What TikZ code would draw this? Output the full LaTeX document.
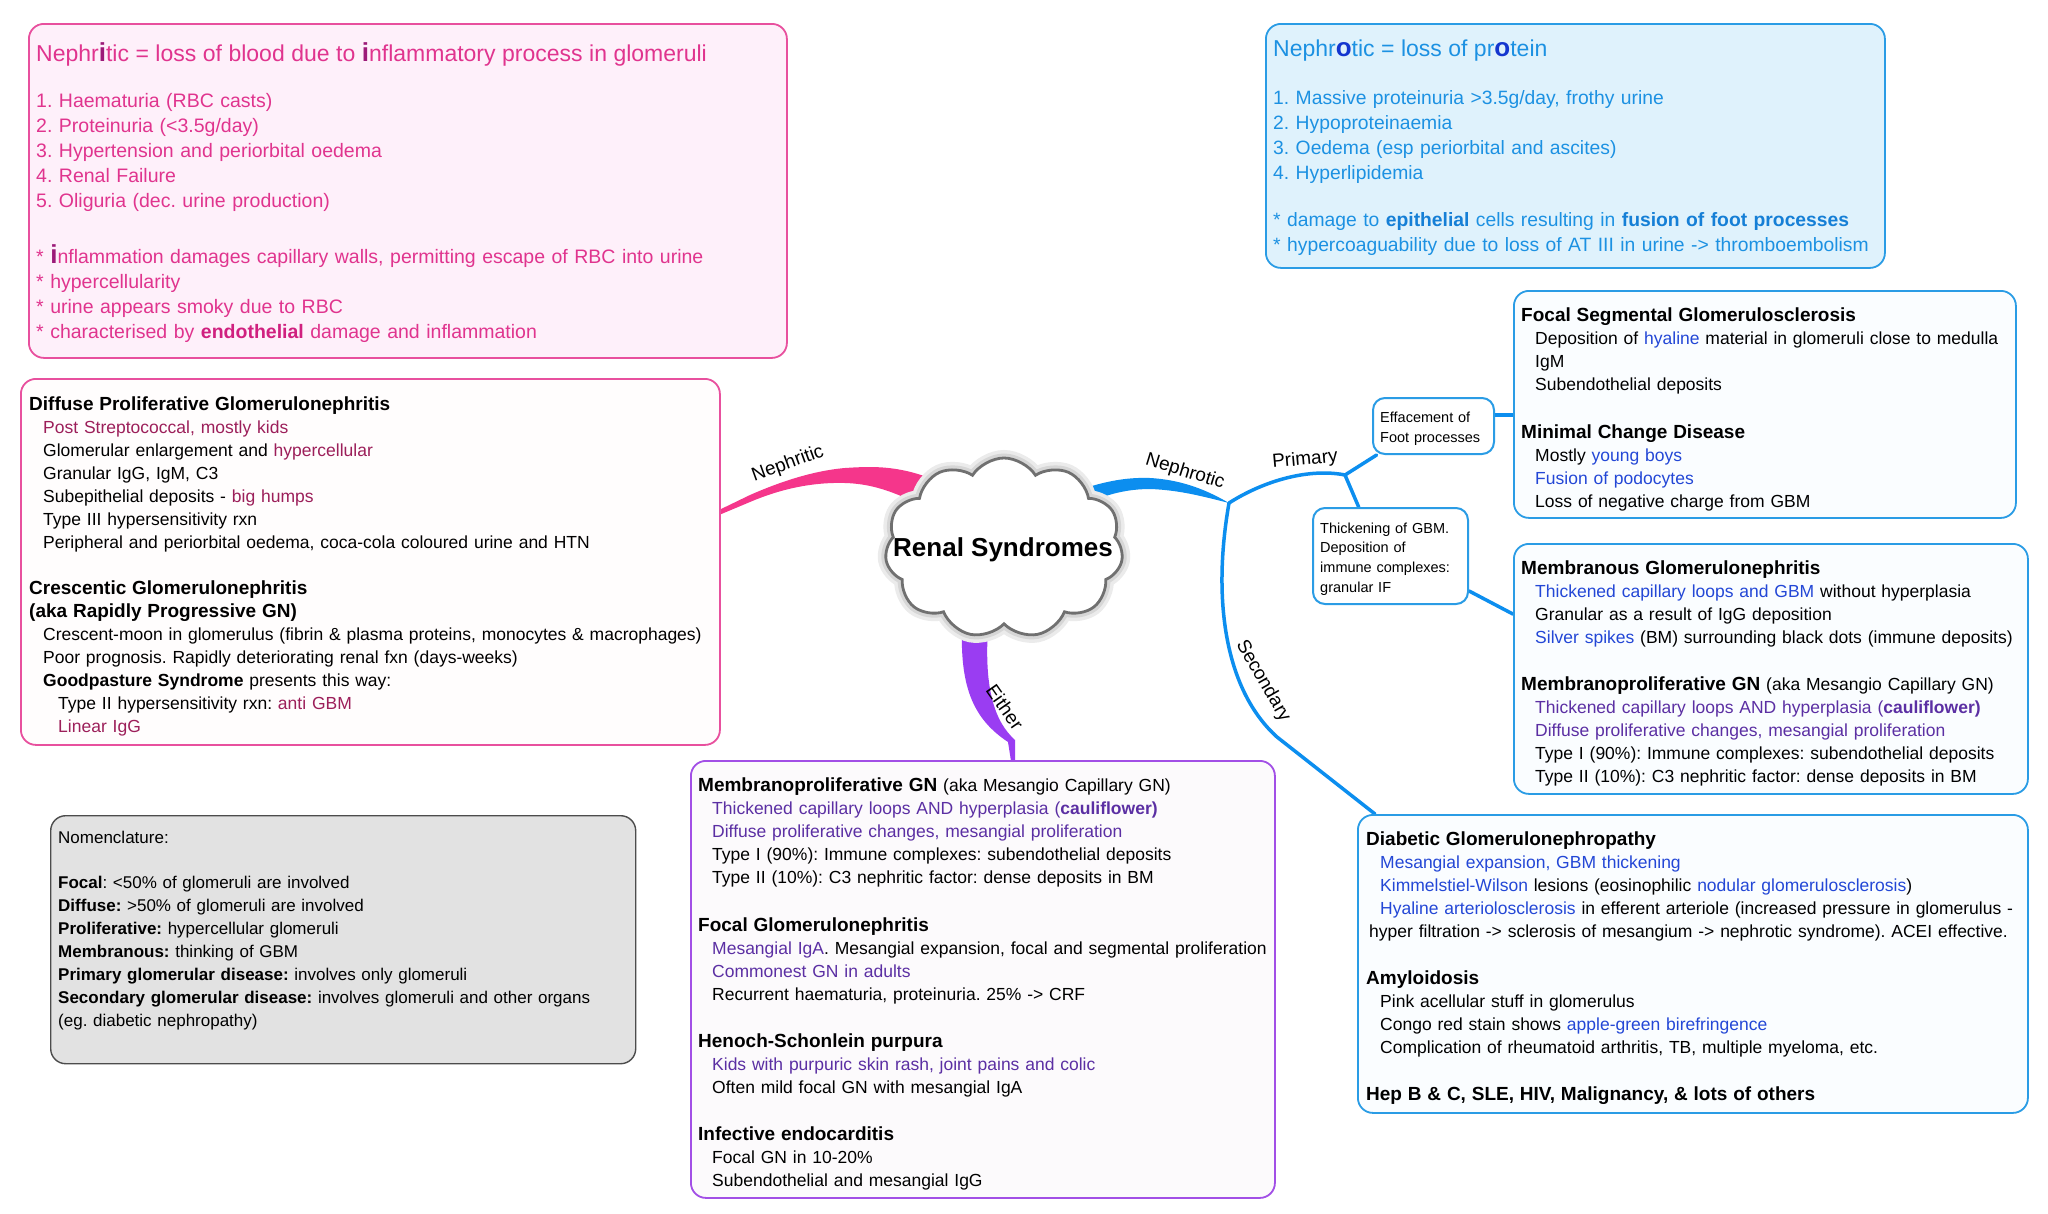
\documentclass[tikz,border=0pt]{standalone}
\usepackage{fontspec}
\setmainfont{Liberation Sans}
\usepackage{xcolor}
\usepackage{tikz}
\usetikzlibrary{positioning,calc,shapes.symbols,backgrounds}
\frenchspacing

\definecolor{pinkline}{HTML}{E8509E}
\definecolor{pinkfill}{HTML}{FEF0FA}
\definecolor{pinktext}{HTML}{E0348E}
\definecolor{pinkdark}{HTML}{9C1A78}
\definecolor{pinkbold}{HTML}{D0207F}
\definecolor{blueline}{HTML}{2A9CE5}
\definecolor{bluefill}{HTML}{DFF2FC}
\definecolor{bluetext}{HTML}{1C91E2}
\definecolor{bluedark}{HTML}{1436CF}
\definecolor{bluebold}{HTML}{157FD6}
\definecolor{deepblue}{HTML}{2347D6}
\definecolor{maroon}{HTML}{9C1F5A}
\definecolor{purpline}{HTML}{A24FE6}
\definecolor{purptext}{HTML}{5B2FA3}
\definecolor{npink}{HTML}{F5368B}
\definecolor{nblue}{HTML}{0C8EEF}
\definecolor{npurp}{HTML}{9A3DF2}
\definecolor{nomfill}{HTML}{E2E2E2}
\definecolor{cloudline}{HTML}{707070}

\newcommand{\bodyfont}{\fontsize{17.5}{23}\selectfont}
\newcommand{\hdg}[1]{{\fontsize{19}{23}\selectfont\bfseries #1}}
\newcommand{\indA}{\hspace*{14pt}}
\newcommand{\indB}{\hspace*{29pt}}
\newcommand{\cmar}[1]{\textcolor{maroon}{#1}}
\newcommand{\cblu}[1]{\textcolor{deepblue}{#1}}
\newcommand{\cpur}[1]{\textcolor{purptext}{#1}}
\newcommand{\bigI}[1]{{\fontsize{26}{25}\selectfont\bfseries\color{pinkdark}#1}}
\newcommand{\bigO}[1]{{\fontsize{26}{25}\selectfont\bfseries\color{bluedark}#1}}
\newcommand{\bul}{{*}\ }

\begin{document}
\begin{tikzpicture}[x=1pt, y=-1pt,
  box/.style={rectangle, rounded corners=15pt, line width=1.8pt, anchor=north west, inner sep=0pt},
  smallbox/.style={box, rounded corners=12pt, draw=blueline, fill=white, line width=2pt},
  txt/.style={anchor=base west, inner sep=0pt, text width=#1, align=left},
  branch/.style={draw=nblue, line width=3.5pt, line cap=round},
  lbl/.style={font=\fontsize{19}{19}\selectfont, inner sep=0pt}]
  \useasboundingbox (0,0) rectangle (2048,1213);
  \begin{scope}[on background layer]
    \fill[white] (0,0) rectangle (2048,1213);
  \end{scope}

  % boxes
  \node[box, draw=pinkline, fill=pinkfill, minimum width=758, minimum height=334] (nephriticbox) at (28,23) {};
  \node[box, draw=blueline, fill=bluefill, minimum width=619, minimum height=244] (nephroticbox) at (1265,23) {};
  \node[box, draw=pinkline, fill=white!97!pink, minimum width=699, minimum height=366] (diffusebox) at (20,378) {};
  \node[box, draw=purpline, fill=white!98!violet, minimum width=584, minimum height=437] (eitherbox) at (690,760) {};
  \node[box, draw=blueline, fill=white!98!cyan, minimum width=502, minimum height=227] (fsgsbox) at (1513,290) {};
  \node[box, draw=blueline, fill=white!98!cyan, minimum width=514, minimum height=250] (membbox) at (1513,543) {};
  \node[box, draw=blueline, fill=white!98!cyan, minimum width=670, minimum height=298] (diabbox) at (1357,814) {};
  \node[box, draw=black!70, fill=nomfill, line width=1.4pt, minimum width=585, minimum height=248] (nomenbox) at (50,815) {};
  \node[smallbox, minimum width=121, minimum height=56] (effbox) at (1372,397) {};
  \node[smallbox, minimum width=155, minimum height=96] (thickbox) at (1312,507) {};

  \coordinate (fork) at (1229,503);
  \coordinate (primfork) at (1345,475);

  % connectors
  \begin{scope}[on background layer]
    \fill[npink] (948,486) .. controls (905,465) and (875,466) .. (845,468)
      .. controls (810,471) and (775,484) .. (750,495) -- (719,510) -- (719,515) -- (750,502)
      .. controls (778,490) and (810,482) .. (845,483) .. controls (880,484) and (905,497) .. (945,517) -- cycle;
    \fill[nblue] (1068,494) .. controls (1100,482) and (1125,477) .. (1150,478)
      .. controls (1185,480) and (1210,492) .. (fork) .. controls (1205,497) and (1180,490) .. (1150,489)
      .. controls (1120,489) and (1095,498) .. (1070,512) -- cycle;
    \fill[npurp] (962,628) .. controls (960,690) and (975,720) .. (1008,742) -- (1011,761) -- (1015,761)
      -- (1015,740) .. controls (995,722) and (984,690) .. (988,628) -- cycle;
    \draw[branch] (fork) .. controls (1265,480) and (1310,468) .. (primfork);
    \draw[branch] (primfork) -- (effbox.207);
    \draw[branch] (primfork) -- (thickbox.123);
    \draw[branch] (effbox.10) -- (effbox.10 -| fsgsbox.west);
    \draw[branch] (thickbox.336) -- (membbox.168);
    \draw[branch] (fork) .. controls (1212,600) and (1225,690) .. (1277,737) -- ($(diabbox.north west)+(18,0)$);
  \end{scope}

  \node[cloud, cloud puffs=11, cloud puff arc=115, cloud ignores aspect, minimum width=238, minimum height=180,
        draw=cloudline, line width=2.8pt, fill=white,
        preaction={draw=black!8, line width=16pt}, preaction={draw=black!16, line width=9pt}] (renal) at (1004,548) {};
  \node[font=\fontsize{26}{30}\selectfont\bfseries] (renaltxt) at (1003,550) {Renal Syndromes};

  \node[lbl, rotate=20] (nephriticlbl) at (788,464) {Nephritic};
  \node[lbl, rotate=-17] (nephroticlbl) at (1185,472) {Nephrotic};
  \node[lbl, rotate=5] (primarylbl) at (1305,460) {Primary};
  \node[lbl, rotate=-60] (secondarylbl) at (1263,681) {Secondary};
  \node[lbl, rotate=-55] (eitherlbl) at (1005,707) {Either};

  % texts
  \node[txt=770, text=pinktext, font=\fontsize{19.5}{25}\selectfont] (nephritictxt) at (36,61)
    {{\fontsize{23}{25}\selectfont Nephr\bigI{i}tic = loss of blood due to \bigI{i}nflammatory process in glomeruli}\\[21pt]
     1. Haematuria (RBC casts)\\
     2. Proteinuria (<3.5g/day)\\
     3. Hypertension and periorbital oedema\\
     4. Renal Failure\\
     5. Oliguria (dec. urine production)\\[31pt]
     \bul\bigI{i}nflammation damages capillary walls, permitting escape of RBC into urine\\
     \bul hypercellularity\\
     \bul urine appears smoky due to RBC\\
     \bul characterised by \textcolor{pinkbold}{\textbf{endothelial}} damage and inflammation};

  \node[txt=640, text=bluetext, font=\fontsize{19.3}{25}\selectfont] (nephrotictxt) at (1273,56)
    {{\fontsize{23}{25}\selectfont Nephr\bigO{o}tic = loss of pr\bigO{o}tein}\\[23.5pt]
     1. Massive proteinuria >3.5g/day, frothy urine\\
     2. Hypoproteinaemia\\
     3. Oedema (esp periorbital and ascites)\\
     4. Hyperlipidemia\\[22pt]
     \bul damage to \textcolor{bluebold}{\textbf{epithelial}} cells resulting in \textcolor{bluebold}{\textbf{fusion of foot processes}}\\
     \bul hypercoaguability due to loss of AT III in urine -> thromboembolism};

  \node[txt=720, font=\bodyfont] (diffusetxt) at (29,410)
    {\hdg{Diffuse Proliferative Glomerulonephritis}\\
     \indA\cmar{Post Streptococcal, mostly kids}\\
     \indA Glomerular enlargement and \cmar{hypercellular}\\
     \indA Granular IgG, IgM, C3\\
     \indA Subepithelial deposits - \cmar{big humps}\\
     \indA Type III hypersensitivity rxn\\
     \indA Peripheral and periorbital oedema, coca-cola coloured urine and HTN\\[23pt]
     \hdg{Crescentic Glomerulonephritis}\\
     \hdg{(aka Rapidly Progressive GN)}\\
     \indA Crescent-moon in glomerulus (fibrin \& plasma proteins, monocytes \& macrophages)\\
     \indA Poor prognosis. Rapidly deteriorating renal fxn (days-weeks)\\
     \indA\textbf{Goodpasture Syndrome} presents this way:\\
     \indB Type II hypersensitivity rxn: \cmar{anti GBM}\\
     \indB\cmar{Linear IgG}};

  \node[txt=640, font=\bodyfont] (eithertxt) at (698,791)
    {\hdg{Membranoproliferative GN} (aka Mesangio Capillary GN)\\
     \indA\cpur{Thickened capillary loops AND hyperplasia (\textbf{cauliflower)}}\\
     \indA\cpur{Diffuse proliferative changes, mesangial proliferation}\\
     \indA Type I (90\%): Immune complexes: subendothelial deposits\\
     \indA Type II (10\%): C3 nephritic factor: dense deposits in BM\\[25pt]
     \hdg{Focal Glomerulonephritis}\\
     \indA\cpur{Mesangial IgA}. Mesangial expansion, focal and segmental proliferation\\
     \indA\cpur{Commonest GN in adults}\\
     \indA Recurrent haematuria, proteinuria. 25\% -> CRF\\[24pt]
     \hdg{Henoch-Schonlein purpura}\\
     \indA\cpur{Kids with purpuric skin rash, joint pains and colic}\\
     \indA Often mild focal GN with mesangial IgA\\[24pt]
     \hdg{Infective endocarditis}\\
     \indA Focal GN in 10-20\%\\
     \indA Subendothelial and mesangial IgG};

  \node[txt=560, font=\bodyfont] (fsgstxt) at (1521,321)
    {\hdg{Focal Segmental Glomerulosclerosis}\\
     \indA Deposition of \cblu{hyaline} material in glomeruli close to medulla\\
     \indA IgM\\
     \indA Subendothelial deposits\\[25pt]
     \hdg{Minimal Change Disease}\\
     \indA Mostly \cblu{young boys}\\
     \indA\cblu{Fusion of podocytes}\\
     \indA Loss of negative charge from GBM};

  \node[txt=560, font=\bodyfont] (membtxt) at (1521,574)
    {\hdg{Membranous Glomerulonephritis}\\
     \indA\cblu{Thickened capillary loops and GBM} without hyperplasia\\
     \indA Granular as a result of IgG deposition\\
     \indA\cblu{Silver spikes} (BM) surrounding black dots (immune deposits)\\[24pt]
     \hdg{Membranoproliferative GN} (aka Mesangio Capillary GN)\\
     \indA\cpur{Thickened capillary loops AND hyperplasia (\textbf{cauliflower)}}\\
     \indA\cpur{Diffuse proliferative changes, mesangial proliferation}\\
     \indA Type I (90\%): Immune complexes: subendothelial deposits\\
     \indA Type II (10\%): C3 nephritic factor: dense deposits in BM};

  \node[txt=720, font=\bodyfont] (diabtxt) at (1366,845)
    {\hdg{Diabetic Glomerulonephropathy}\\
     \indA\cblu{Mesangial expansion, GBM thickening}\\
     \indA\cblu{Kimmelstiel-Wilson} lesions (eosinophilic \cblu{nodular glomerulosclerosis})\\
     \indA\cblu{Hyaline arteriolosclerosis} in efferent arteriole (increased pressure in glomerulus -\\
     \hspace*{3pt}hyper filtration -> sclerosis of mesangium -> nephrotic syndrome). ACEI effective.\\[24pt]
     \hdg{Amyloidosis}\\
     \indA Pink acellular stuff in glomerulus\\
     \indA Congo red stain shows \cblu{apple-green birefringence}\\
     \indA Complication of rheumatoid arthritis, TB, multiple myeloma, etc.\\[24pt]
     \hdg{Hep B \& C, SLE, HIV, Malignancy, \& lots of others}};

  \node[txt=620, font=\fontsize{17}{23}\selectfont] (nomentxt) at (58,843)
    {Nomenclature:\\[22pt]
     \textbf{Focal}: <50\% of glomeruli are involved\\
     \textbf{Diffuse:} >50\% of glomeruli are involved\\
     \textbf{Proliferative:} hypercellular glomeruli\\
     \textbf{Membranous:} thinking of GBM\\
     \textbf{Primary glomerular disease:} involves only glomeruli\\
     \textbf{Secondary glomerular disease:} involves glomeruli and other organs\\
     (eg. diabetic nephropathy)};

  \node[txt=140, font=\fontsize{14.5}{20}\selectfont] (efftxt) at (1380,422)
    {Effacement of\\Foot processes};
  \node[txt=160, font=\fontsize{14.5}{19.7}\selectfont] (thicktxt) at (1320,533)
    {Thickening of GBM.\\Deposition of\\immune complexes:\\granular IF};
\end{tikzpicture}
\end{document}
